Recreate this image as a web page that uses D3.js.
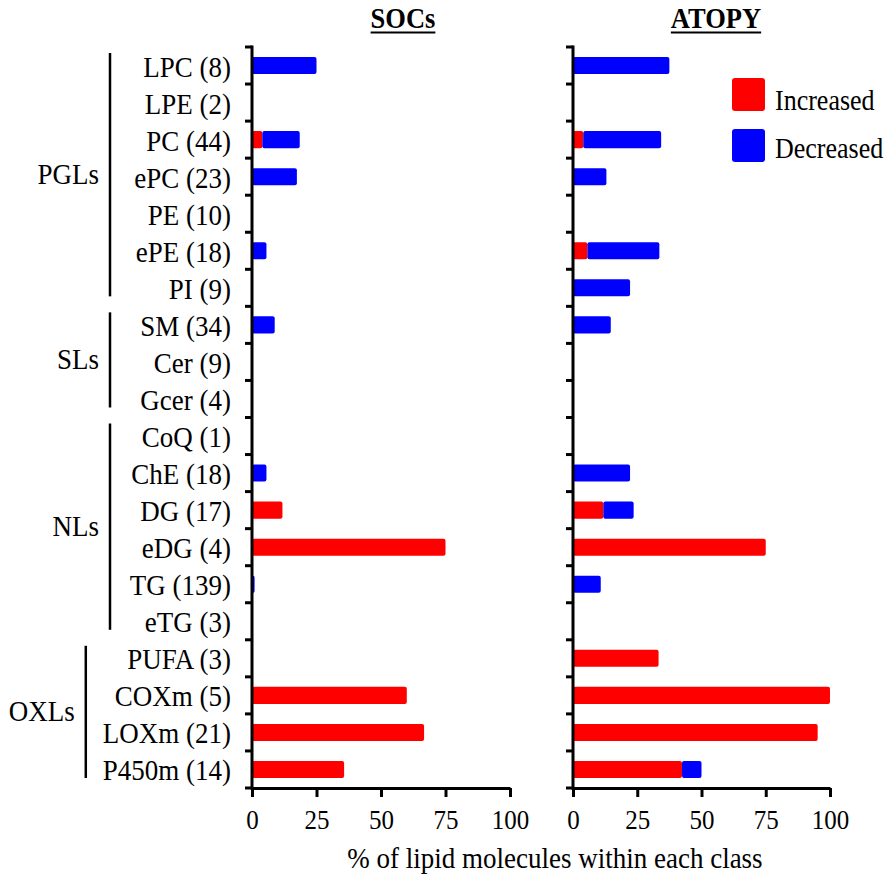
<!DOCTYPE html>
<html><head><meta charset="utf-8">
<script src="https://cdn.jsdelivr.net/npm/d3@7"></script>
<style>
body{margin:0;background:#fff}
text{font-family:"Liberation Serif","Times New Roman",Times,serif;fill:#000}
</style>
</head><body>
<svg id="c" width="892" height="878"></svg>
<script>
// ---------- data ----------
const categories = ["LPC (8)","LPE (2)","PC (44)","ePC (23)","PE (10)","ePE (18)","PI (9)",
  "SM (34)","Cer (9)","Gcer (4)",
  "CoQ (1)","ChE (18)","DG (17)","eDG (4)","TG (139)","eTG (3)",
  "PUFA (3)","COXm (5)","LOXm (21)","P450m (14)"];
const groupNames = ["PGLs","SLs","NLs","OXLs"];
const groupFirst = ["LPC (8)","SM (34)","CoQ (1)","PUFA (3)"];
const groupLast  = ["PI (9)","Gcer (4)","eTG (3)","P450m (14)"];
const socsIncreased  = [0,0,4,0,0,0,0, 0,0,0, 0,0,11.8,75,0,0, 0,60,66.7,35.7];
const socsDecreased  = [25,0,14.5,17.4,0,5.6,0, 8.8,0,0, 0,5.6,0,0,1,0, 0,0,0,0];
const atopyIncreased = [0,0,4,0,0,5.6,0, 0,0,0, 0,0,11.8,75,0,0, 33.3,100,95.2,42.4];
const atopyDecreased = [37.5,0,30.3,13,0,28,22.2, 14.7,0,0, 0,22.2,11.8,0,10.8,0, 0,0,0,7.6];
const panelTitles = ["SOCs","ATOPY"];
const xTicks = [0,25,50,75,100];
const legendLabels = ["Increased","Decreased"];
const seriesColors = ["#ff0000","#0000ff"];
const axisTitle = "% of lipid molecules within each class";

// ---------- layout ----------
const svg = d3.select("#c");
const FONT = 27, VS = 1.12;
const y = d3.scaleBand().domain(categories).range([47,788]).paddingInner(0.54).paddingOuter(0.27);
const panelRanges = [[252,510],[573,830]];
const titleCenters = [403,716];
const panels = [
  {title:panelTitles[0], inc:socsIncreased, dec:socsDecreased},
  {title:panelTitles[1], inc:atopyIncreased, dec:atopyDecreased}
];
const bw = y.bandwidth();
const boundaries = categories.map(c => y(c) - y.step()*y.paddingInner()/2).concat([y.range()[1]]);

// text placed at baseline (x,y) and stretched vertically like the reference
function txt(parent, x, yy, s, size, anchor, bold){
  return parent.append("text").attr("transform",`translate(${x},${yy}) scale(1,${VS})`)
    .attr("text-anchor",anchor||"start").style("font-size",size+"px")
    .style("font-weight",bold?"bold":"normal").text(s);
}

panels.forEach((p, pi) => {
  const x = d3.scaleLinear().domain([0,100]).range(panelRanges[pi]);
  const g = svg.append("g");
  const rows = categories.map((c,i)=>({c, inc:p.inc[i], dec:p.dec[i]}));
  g.selectAll("rect.inc").data(rows.filter(d=>d.inc>0)).join("rect")
    .attr("x", x(0)).attr("y", d=>y(d.c)).attr("height", bw)
    .attr("width", d=>x(d.inc)-x(0)).attr("rx",2).attr("fill", seriesColors[0]);
  g.selectAll("rect.dec").data(rows.filter(d=>d.dec>0)).join("rect")
    .attr("x", d=>x(d.inc)).attr("y", d=>y(d.c)).attr("height", bw)
    .attr("width", d=>x(d.inc+d.dec)-x(d.inc)).attr("rx",2).attr("fill", seriesColors[1]);
  g.append("line").attr("x1",x(0)).attr("x2",x(0)).attr("y1",y.range()[0]-1.5).attr("y2",y.range()[1]+1.5)
    .attr("stroke","#000").attr("stroke-width",3);
  g.selectAll("line.yt").data(boundaries).join("line")
    .attr("x1",x(0)-7).attr("x2",x(0)).attr("y1",d=>d).attr("y2",d=>d)
    .attr("stroke","#000").attr("stroke-width",3);
  const ax = g.append("g").attr("transform",`translate(0,${y.range()[1]})`)
    .call(d3.axisBottom(x).tickValues(xTicks).tickSize(9).tickSizeOuter(0));
  ax.attr("font-family",null).attr("font-size",null);
  ax.select(".domain").attr("stroke","#000").attr("stroke-width",3);
  ax.selectAll(".tick line").attr("stroke","#000").attr("stroke-width",3);
  ax.selectAll(".tick text").attr("y",null).attr("dy",null)
    .attr("transform",`translate(0,41) scale(1,${VS})`)
    .style("font-family",'"Liberation Serif","Times New Roman",serif').style("font-size","25px").attr("fill","#000");
  const t = txt(g, titleCenters[pi], 28, p.title, 26.5, "middle", true);
  const w = t.node().getComputedTextLength();
  g.append("line").attr("x1",titleCenters[pi]-w/2).attr("x2",titleCenters[pi]+w/2)
    .attr("y1",32.5).attr("y2",32.5).attr("stroke","#000").attr("stroke-width",2.2);
});

// category labels
const labelG = svg.append("g");
const labelLeft = {};
categories.forEach(c=>{
  const t = txt(labelG, 231, y(c)+bw/2+11, c, FONT, "end");
  labelLeft[c] = 231 - t.node().getComputedTextLength();
});

// group brackets
groupNames.forEach((name,i)=>{
  const members = categories.slice(categories.indexOf(groupFirst[i]), categories.indexOf(groupLast[i])+1);
  const minLeft = d3.min(members, m=>labelLeft[m]);
  const bx = Math.min(110, minLeft-17);
  const top = y(groupFirst[i]) - 4, bot = y(groupLast[i]) + bw;
  svg.append("line").attr("x1",bx).attr("x2",bx).attr("y1",top).attr("y2",bot)
    .attr("stroke","#000").attr("stroke-width",2.5);
  txt(svg, bx-11, (top+bot)/2+9, name, FONT, "end");
});

// legend
const lg = svg.append("g");
legendLabels.forEach((l,i)=>{
  lg.append("rect").attr("x",732).attr("y",78+i*51).attr("width",33).attr("height",33)
    .attr("rx",3).attr("fill",seriesColors[i]);
  txt(lg, 775, 110+i*48, l, 26, "start");
});

// axis title
txt(svg, 555, 868, axisTitle, FONT, "middle");
</script>
</body></html>
